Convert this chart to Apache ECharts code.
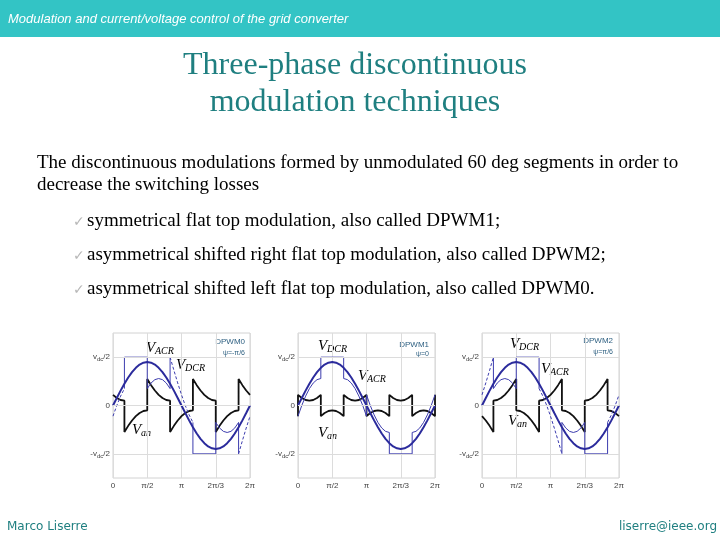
<!DOCTYPE html>
<html>
<head>
<meta charset="utf-8">
<script src="https://cdn.jsdelivr.net/npm/echarts@6/dist/echarts.min.js"></script>
<style>html,body{margin:0;padding:0;background:#fff}#c{width:720px;height:540px}</style>
</head>
<body>
<div id="c"></div>
<script>
// ---- tick labels ----
const xTicks = [0, 90, 180, 270, 360];
const xTickLabels = ['0', 'π/2', 'π', '2π/3', '2π'];
const yTicks = [-1, 0, 1];
const yTickLabels = ['{a|-v}{b|dc}{a|/2}', '{a|0}', '{a|v}{b|dc}{a|/2}'];
const yGridValues = [-1, 0, 1];

// ---- continuous reference V_ACR (same in all three panels), sampled every 10 deg ----
const angles = [0,10,20,30,40,50,60,70,80,90,100,110,120,130,140,150,160,170,180,190,200,210,220,230,240,250,260,270,280,290,300,310,320,330,340,350,360];
const vAcr = [0,0.156,0.308,0.45,0.579,0.689,0.779,0.846,0.886,0.9,0.886,0.846,0.779,0.689,0.579,0.45,0.308,0.156,0,-0.156,-0.308,-0.45,-0.579,-0.689,-0.779,-0.846,-0.886,-0.9,-0.886,-0.846,-0.779,-0.689,-0.579,-0.45,-0.308,-0.156,0];

// ---- DPWM0 ----
const dpwm0Van = [[0,0.221],[10,0.154],[20,0.114],[30,0.1],[30,-0.55],[40,-0.421],[50,-0.311],[60,-0.221],[70,-0.154],[80,-0.114],[90,-0.1],[90,0.55],[100,0.421],[110,0.311],[120,0.221],[130,0.154],[140,0.114],[150,0.1],[150,-0.55],[160,-0.421],[170,-0.311],[180,-0.221],[190,-0.154],[200,-0.114],[210,-0.1],[210,0.55],[220,0.421],[230,0.311],[240,0.221],[250,0.154],[260,0.114],[270,0.1],[270,-0.55],[280,-0.421],[290,-0.311],[300,-0.221],[310,-0.154],[320,-0.114],[330,-0.1],[330,0.55],[340,0.421],[350,0.311],[360,0.221]];
const dpwm0Dcr = [[30,0.35],[30,1],[90,1],[90,0.35],[100,0.465],[110,0.535],[120,0.558],[130,0.535],[140,0.465],[150,0.35],[150,1],[180,'-'],[210,-0.35],[210,-1],[270,-1],[270,-0.35],[280,-0.465],[290,-0.535],[300,-0.558],[310,-0.535],[320,-0.465],[330,-0.35],[330,-1]];
const dpwm0DcrSteep = [[0,-0.221],[10,0.002],[20,0.194],[30,0.35],[90,'-'],[150,1],[160,0.729],[170,0.467],[180,0.221],[190,-0.002],[200,-0.194],[210,-0.35],[270,'-'],[330,-1],[340,-0.729],[350,-0.467],[360,-0.221]];

// ---- DPWM1 ----
const dpwm1Van = [[0,-0.221],[0,0.221],[10,0.154],[20,0.114],[30,0.1],[40,0.114],[50,0.154],[60,0.221],[60,-0.221],[70,-0.154],[80,-0.114],[90,-0.1],[100,-0.114],[110,-0.154],[120,-0.221],[120,0.221],[130,0.154],[140,0.114],[150,0.1],[160,0.114],[170,0.154],[180,0.221],[180,-0.221],[190,-0.154],[200,-0.114],[210,-0.1],[220,-0.114],[230,-0.154],[240,-0.221],[240,0.221],[250,0.154],[260,0.114],[270,0.1],[280,0.114],[290,0.154],[300,0.221],[300,-0.221],[310,-0.154],[320,-0.114],[330,-0.1],[340,-0.114],[350,-0.154],[360,-0.221],[360,0.221]];
const dpwm1Dcr = [[0,-0.221],[10,0.002],[20,0.194],[30,0.35],[40,0.465],[50,0.535],[60,0.558],[60,1],[120,1],[120,0.558],[130,0.535],[140,0.465],[150,0.35],[160,0.194],[170,0.002],[180,-0.221],[180,0.221],[190,-0.002],[200,-0.194],[210,-0.35],[220,-0.465],[230,-0.535],[240,-0.558],[240,-1],[300,-1],[300,-0.558],[310,-0.535],[320,-0.465],[330,-0.35],[340,-0.194],[350,-0.002],[360,0.221]];

// ---- DPWM2 ----
const dpwm2Van = [[0,-0.221],[10,-0.311],[20,-0.421],[30,-0.55],[30,0.1],[40,0.114],[50,0.154],[60,0.221],[70,0.311],[80,0.421],[90,0.55],[90,-0.1],[100,-0.114],[110,-0.154],[120,-0.221],[130,-0.311],[140,-0.421],[150,-0.55],[150,0.1],[160,0.114],[170,0.154],[180,0.221],[190,0.311],[200,0.421],[210,0.55],[210,-0.1],[220,-0.114],[230,-0.154],[240,-0.221],[250,-0.311],[260,-0.421],[270,-0.55],[270,0.1],[280,0.114],[290,0.154],[300,0.221],[310,0.311],[320,0.421],[330,0.55],[330,-0.1],[340,-0.114],[350,-0.154],[360,-0.221]];
const dpwm2Dcr = [[30,1],[30,0.35],[40,0.465],[50,0.535],[60,0.558],[70,0.535],[80,0.465],[90,0.35],[90,1],[150,1],[150,0.35],[180,'-'],[210,-1],[210,-0.35],[220,-0.465],[230,-0.535],[240,-0.558],[250,-0.535],[260,-0.465],[270,-0.35],[270,-1],[330,-1],[330,-0.35]];
const dpwm2DcrSteep = [[0,0.221],[10,0.467],[20,0.729],[30,1],[90,'-'],[150,0.35],[160,0.194],[170,0.002],[180,-0.221],[190,-0.467],[200,-0.729],[210,-1],[270,'-'],[330,-0.35],[340,-0.194],[350,-0.002],[360,0.221]];

// ---- panel texts ----
const panelNames = ['DPWM0', 'DPWM1', 'DPWM2'];
const panelAngles = ['ψ=-π/6', 'ψ=0', 'ψ=π/6'];

const BLUE = '#2b2b9c';
const THIN = '#3c3cae';
const grids = [
  {left: 113, top: 333, width: 137, height: 145},
  {left: 298, top: 333, width: 137, height: 145},
  {left: 482, top: 333, width: 137, height: 145}
];

const chart = echarts.init(document.getElementById('c'));
const acrPairs = angles.map((a, i) => [a, vAcr[i]]);

function xAx(i) {
  return {gridIndex: i, type: 'value', min: 0, max: 360, interval: 90,
    axisLine: {show: false}, axisTick: {show: false},
    splitLine: {show: true, lineStyle: {color: '#dcdcdc', width: 1}},
    axisLabel: {fontSize: 8, color: '#444', margin: 4, fontFamily: 'Liberation Sans',
      formatter: v => { const k = xTicks.indexOf(v); return k >= 0 ? xTickLabels[k] : ''; }}};
}
function yAx(i) {
  return {gridIndex: i, type: 'value', min: -1.5, max: 1.5, interval: 0.5,
    axisLine: {show: false}, axisTick: {show: false}, splitLine: {show: false},
    axisLabel: {margin: 3, color: '#444',
      formatter: v => { const k = yTicks.indexOf(v); return k >= 0 ? yTickLabels[k] : ''; },
      rich: {a: {fontSize: 8, color: '#444', fontFamily: 'Liberation Sans'},
             b: {fontSize: 6, color: '#444', fontFamily: 'Liberation Sans', padding: [5, 0, 0, 0]}}}};
}
function line(i, data, color, width, type, z) {
  return {type: 'line', xAxisIndex: i, yAxisIndex: i, data: data, showSymbol: false, symbol: 'none',
    connectNulls: false, silent: true, animation: false, z: z,
    lineStyle: {color: color, width: width, type: type}};
}
const series = [];
const vans = [dpwm0Van, dpwm1Van, dpwm2Van];
const dcrs = [dpwm0Dcr, dpwm1Dcr, dpwm2Dcr];
const steeps = [dpwm0DcrSteep, null, dpwm2DcrSteep];
for (let i = 0; i < 3; i++) {
  series.push({type: 'line', xAxisIndex: i, yAxisIndex: i, data: [], silent: true, z: 1,
    markLine: {silent: true, symbol: 'none', animation: false, label: {show: false},
      lineStyle: {color: '#dcdcdc', type: 'solid', width: 1},
      data: yGridValues.map(v => ({yAxis: v}))}});
  series.push(line(i, vans[i], '#111', 1.8, 'solid', 2));
  series.push(line(i, dcrs[i], THIN, 1, 'solid', 3));
  if (steeps[i]) series.push(line(i, steeps[i], THIN, 1, [3, 2], 3));
  series.push(line(i, acrPairs, BLUE, 2, 'solid', 4));
}

function vlab(x, y, sub) {
  return {type: 'group', x: x, y: y, silent: true, children: [
    {type: 'text', style: {text: 'V', fontFamily: 'Liberation Serif', fontStyle: 'italic', fontSize: 15, fill: '#000', verticalAlign: 'middle'}},
    {type: 'text', x: 9, y: 3, style: {text: sub, fontFamily: 'Liberation Serif', fontStyle: 'italic', fontSize: 10, fill: '#000', verticalAlign: 'middle'}}
  ]};
}
function txt(x, y, text, font, size, color, extra) {
  return {type: 'text', x: x, y: y, silent: true, style: Object.assign({text: text, fontFamily: font, fontSize: size, fill: color, verticalAlign: 'middle'}, extra || {})};
}
const TEAL = '#1f7f80';
const graphic = [
  {type: 'rect', shape: {x: 0, y: 0, width: 720, height: 37}, style: {fill: '#33c4c5'}, silent: true},
  txt(8, 19, 'Modulation and current/voltage control of the grid converter', 'Liberation Sans', 13, '#fff', {fontStyle: 'italic'}),
  txt(355, 66, 'Three-phase discontinuous', 'Liberation Serif', 32, TEAL, {align: 'center'}),
  txt(355, 103, 'modulation techniques', 'Liberation Serif', 32, TEAL, {align: 'center'}),
  txt(37, 163, 'The discontinuous modulations formed by unmodulated 60 deg segments in order to', 'Liberation Serif', 19, '#000'),
  txt(37, 185, 'decrease the switching losses', 'Liberation Serif', 19, '#000'),
  txt(73, 222, '✓', 'DejaVu Sans', 14, '#b8b8b8'),
  txt(87, 221, 'symmetrical flat top modulation, also called DPWM1;', 'Liberation Serif', 19, '#000'),
  txt(73, 256, '✓', 'DejaVu Sans', 14, '#b8b8b8'),
  txt(87, 255, 'asymmetrical shifted right flat top modulation, also called DPWM2;', 'Liberation Serif', 19, '#000'),
  txt(73, 290, '✓', 'DejaVu Sans', 14, '#b8b8b8'),
  txt(87, 289, 'asymmetrical shifted left flat top modulation, also called DPWM0.', 'Liberation Serif', 19, '#000'),
  txt(7, 527, 'Marco Liserre', 'DejaVu Sans', 12, TEAL),
  txt(717, 527, 'liserre@ieee.org', 'DejaVu Sans', 12, TEAL, {align: 'right'}),
  // panel captions
  txt(245, 342, panelNames[0], 'Liberation Sans', 8, '#2d5f80', {align: 'right'}),
  txt(245, 353, panelAngles[0], 'Liberation Sans', 7, '#2d5f80', {align: 'right'}),
  txt(429, 345, panelNames[1], 'Liberation Sans', 8, '#2d5f80', {align: 'right'}),
  txt(429, 354, panelAngles[1], 'Liberation Sans', 7, '#2d5f80', {align: 'right'}),
  txt(613, 341, panelNames[2], 'Liberation Sans', 8, '#2d5f80', {align: 'right'}),
  txt(613, 352, panelAngles[2], 'Liberation Sans', 7, '#2d5f80', {align: 'right'}),
  // curve labels
  vlab(146, 348, 'ACR'), vlab(176, 365, 'DCR'), vlab(132, 430, 'an'),
  vlab(318, 346, 'DCR'), vlab(358, 376, 'ACR'), vlab(318, 433, 'an'),
  vlab(510, 344, 'DCR'), vlab(541, 369, 'ACR'), vlab(508, 421, 'an')
];

chart.setOption({
  animation: false,
  grid: grids.map(g => Object.assign({show: true, borderColor: '#d2d2d2', borderWidth: 1, backgroundColor: 'transparent'}, g)),
  xAxis: [0, 1, 2].map(xAx),
  yAxis: [0, 1, 2].map(yAx),
  series: series,
  graphic: graphic
});
</script>
</body>
</html>
